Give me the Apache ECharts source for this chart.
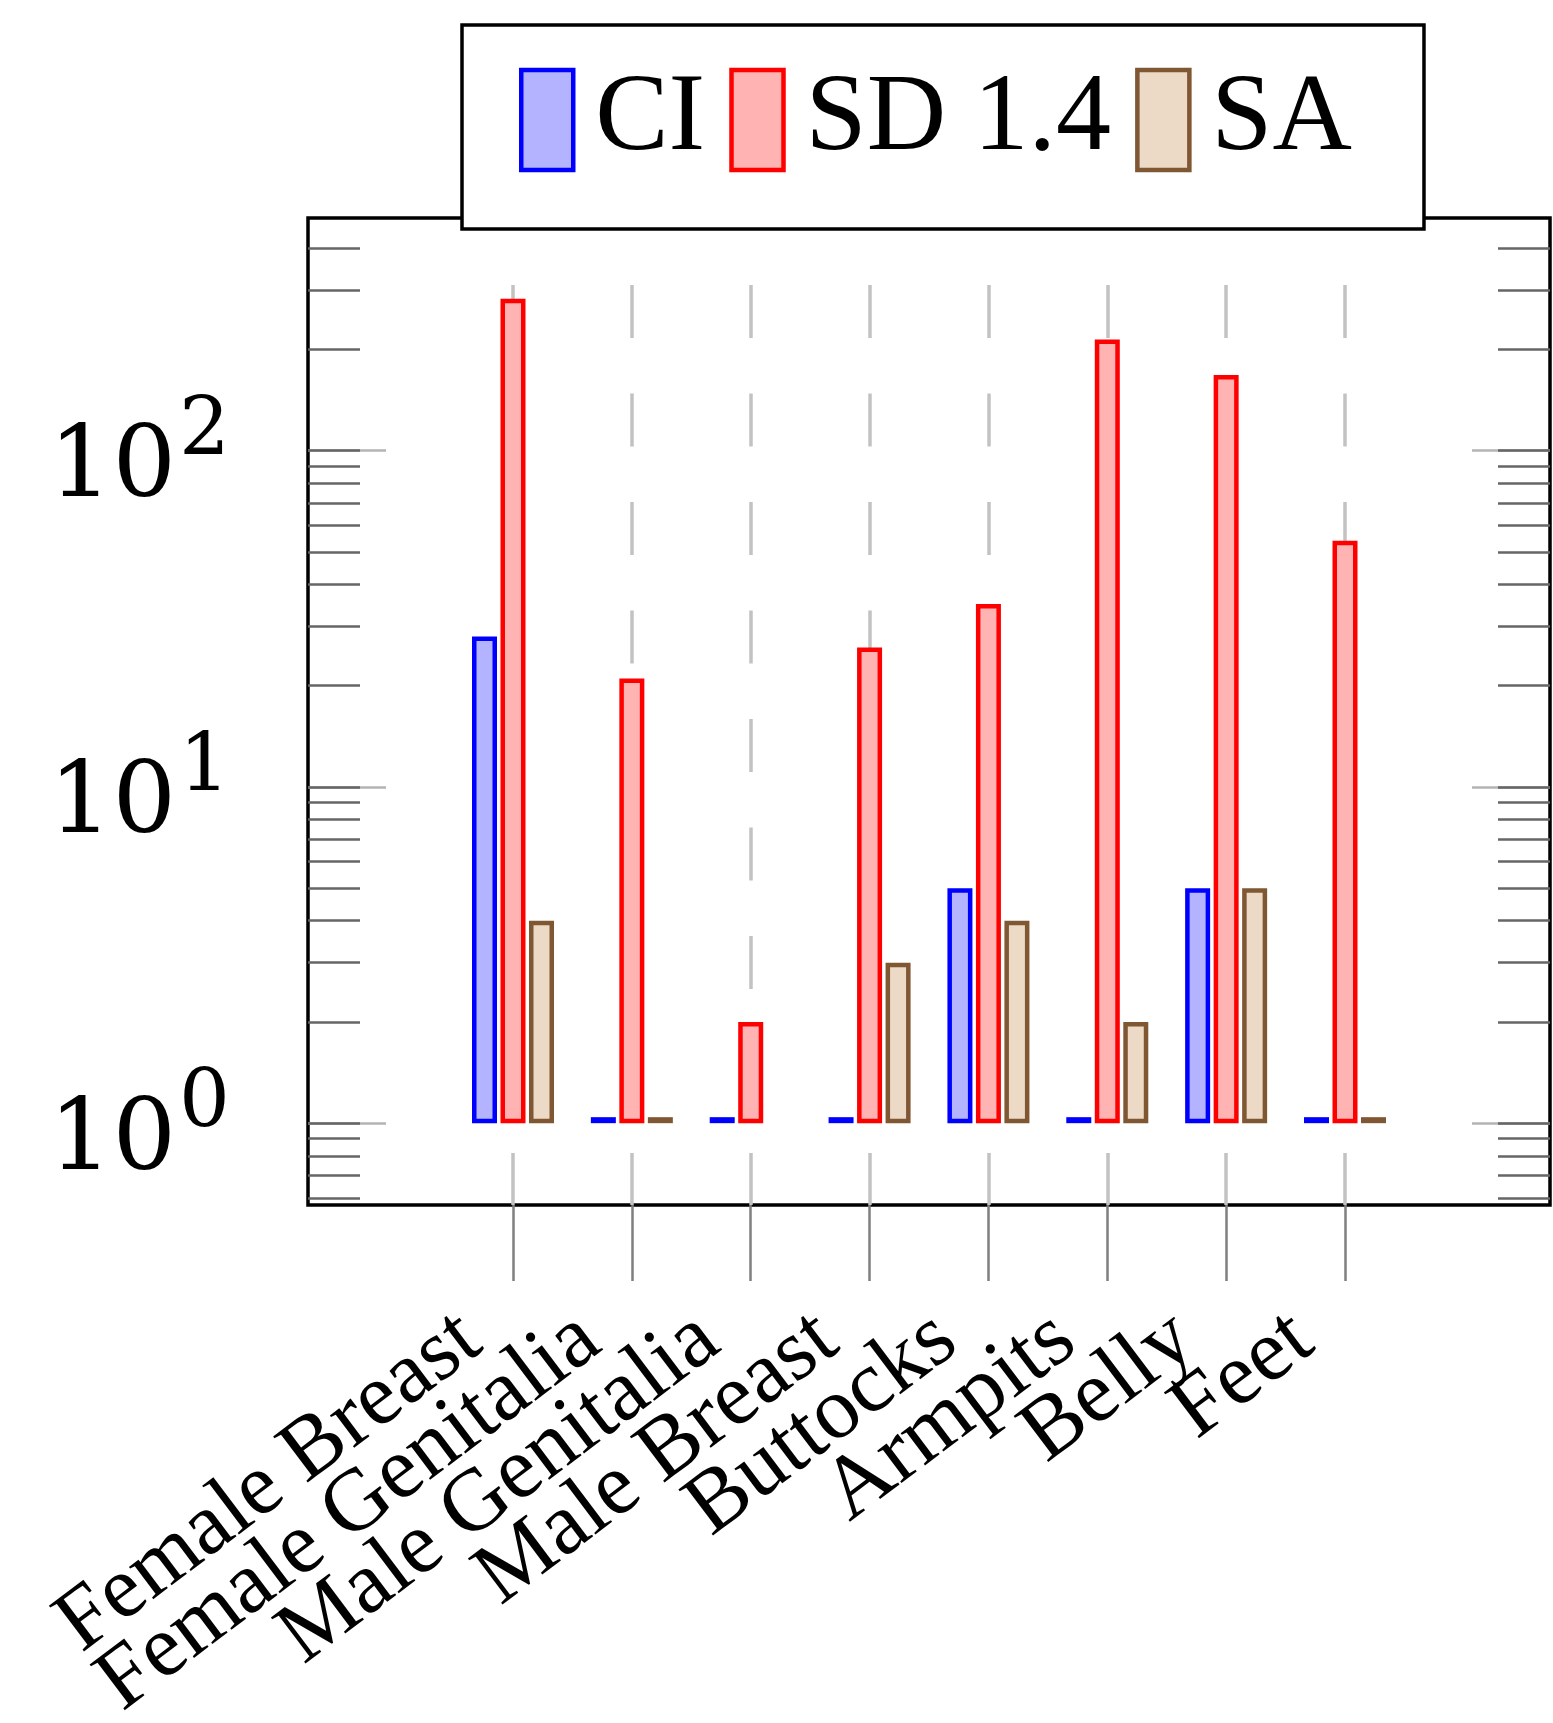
<!DOCTYPE html>
<html>
<head>
<meta charset="utf-8">
<title>Counts per body part</title>
<script src="https://cdn.jsdelivr.net/npm/echarts@6.0.0/dist/echarts.min.js"></script>
<style>
  html, body { margin: 0; padding: 0; background: #fff; }
  #chart-container { width: 1553px; height: 1723px; }
</style>
</head>
<body>
<div id="chart-container"></div>
<script>
// data
const categories = ['Female Breast', 'Female Genitalia', 'Male Genitalia', 'Male Breast', 'Buttocks', 'Armpits', 'Belly', 'Feet'];
const ciValues = [28, 1, 1, 1, 5, 1, 5, 1];
const sdValues = [283, 21, 2, 26, 35, 214, 168, 54];
const saValues = [4, 1, null, 3, 4, 2, 5, 1];

// log axis ticks
const majorTicks = [1, 10, 100];
const minorTicks = [0.6, 0.7, 0.8, 0.9, 1, 2, 3, 4, 5, 6, 7, 8, 9, 10, 20, 30, 40, 50, 60, 70, 80, 90, 100, 200, 300, 400];

const yMin = 0.571;
const yMax = 492;
const gridLineTop = 311;   // dashed x grid lines stop here

const font = 'Liberation Serif';
const numFont = 'DejaVu Serif';

// frame (outer box) in pixels
const frame = { left: 308, top: 218, right: 3, bottom: 518 };
const frameH = 1723 - frame.top - frame.bottom;

// the bar grid shares the bottom of the frame but starts lower, so the dashed lines start there
const barTop = frame.top + (Math.log10(yMax) - Math.log10(gridLineTop)) / (Math.log10(yMax) - Math.log10(yMin)) * frameH;

var dom = document.getElementById('chart-container');
var myChart = echarts.init(dom, null, { renderer: 'canvas' });

function tickAxis(position, ticks, len, color, withLabels)
{
   return {
      type: 'log',
      gridIndex: 0,
      position: position,
      min: yMin,
      max: yMax,
      axisLine: { show: false },
      splitLine: { show: false },
      axisTick: { show: true, inside: true, length: len, customValues: ticks, lineStyle: { color: color, width: 2.5 } },
      axisLabel: withLabels ? {
         show: true,
         customValues: ticks,
         margin: 78,
         padding: [12, 0, 0, 0],
         formatter: v => '{b|10}{s|' + Math.round(Math.log10(v)) + '}',
         rich: {
            // base sits at the bottom of the line, exponent at the top
            b: { fontFamily: numFont, fontSize: 100, lineHeight: 100, color: '#000', verticalAlign: 'bottom' },
            s: { fontFamily: numFont, fontSize: 80, lineHeight: 127, color: '#000', verticalAlign: 'top', padding: [0, 0, 47, 3] }
         }
      } : { show: false }
   };
}

function barSeries(name, values, fill, stroke)
{
   return {
      name: name,
      type: 'bar',
      xAxisIndex: 1,
      yAxisIndex: 4,
      data: values,
      barWidth: 25,
      barGap: '14%',
      barMinHeight: 6,
      clip: false,
      itemStyle: { color: fill, borderColor: stroke, borderWidth: 4.5 },
      emphasis: { disabled: true }
   };
}

var option = {
   animation: false,
   backgroundColor: '#fff',
   grid: [
      { left: frame.left, top: frame.top, right: frame.right, bottom: frame.bottom,
        show: true, borderColor: '#000', borderWidth: 3.5, backgroundColor: 'transparent',
        containLabel: false, outerBoundsMode: 'none' },
      { left: 513, top: barTop, right: 208, bottom: frame.bottom,
        containLabel: false, outerBoundsMode: 'none' }
   ],
   legend: {
      data: ['CI', 'SD 1.4', 'SA'],
      left: 462,
      top: 25,
      orient: 'horizontal',
      padding: [40, 72, 54, 57],
      itemWidth: 52,
      itemHeight: 100,
      itemGap: 24,
      icon: 'rect',
      selectedMode: false,
      backgroundColor: '#fff',
      borderColor: '#000',
      borderWidth: 3.5,
      borderRadius: 0,
      itemStyle: { borderWidth: 4.5 },
      textStyle: { fontFamily: font, fontSize: 110, color: '#000', padding: [0, 0, 0, 17] }
   },
   xAxis: [
      { type: 'value', gridIndex: 0, min: 0, max: 1, show: false },
      {
         type: 'category',
         gridIndex: 1,
         data: categories,
         boundaryGap: false,
         axisLine: { show: false },
         axisTick: { show: true, interval: 0, length: 76, lineStyle: { color: '#7f7f7f', width: 2.5 } },
         axisLabel: { interval: 0, rotate: 37, margin: 94, padding: [0, 52, 0, 0], fontFamily: font, fontSize: 88, color: '#000' },
         splitLine: { show: true, interval: 0, lineStyle: { color: '#c2c2c2', width: 3.5, type: [53, 55.5] } }
      }
   ],
   yAxis: [
      tickAxis('left', majorTicks, 78, '#b4b4b4', true),
      tickAxis('right', majorTicks, 78, '#b4b4b4', false),
      tickAxis('left', minorTicks, 52, '#666', false),
      tickAxis('right', minorTicks, 52, '#666', false),
      { type: 'log', gridIndex: 1, min: yMin, max: gridLineTop, show: false }
   ],
   series: [
      barSeries('CI', ciValues, '#b3b3ff', '#0000ff'),
      barSeries('SD 1.4', sdValues, '#ffb3b3', '#ff0000'),
      barSeries('SA', saValues, '#ecd9c6', '#7f5733')
   ]
};

myChart.setOption(option);
</script>
</body>
</html>
